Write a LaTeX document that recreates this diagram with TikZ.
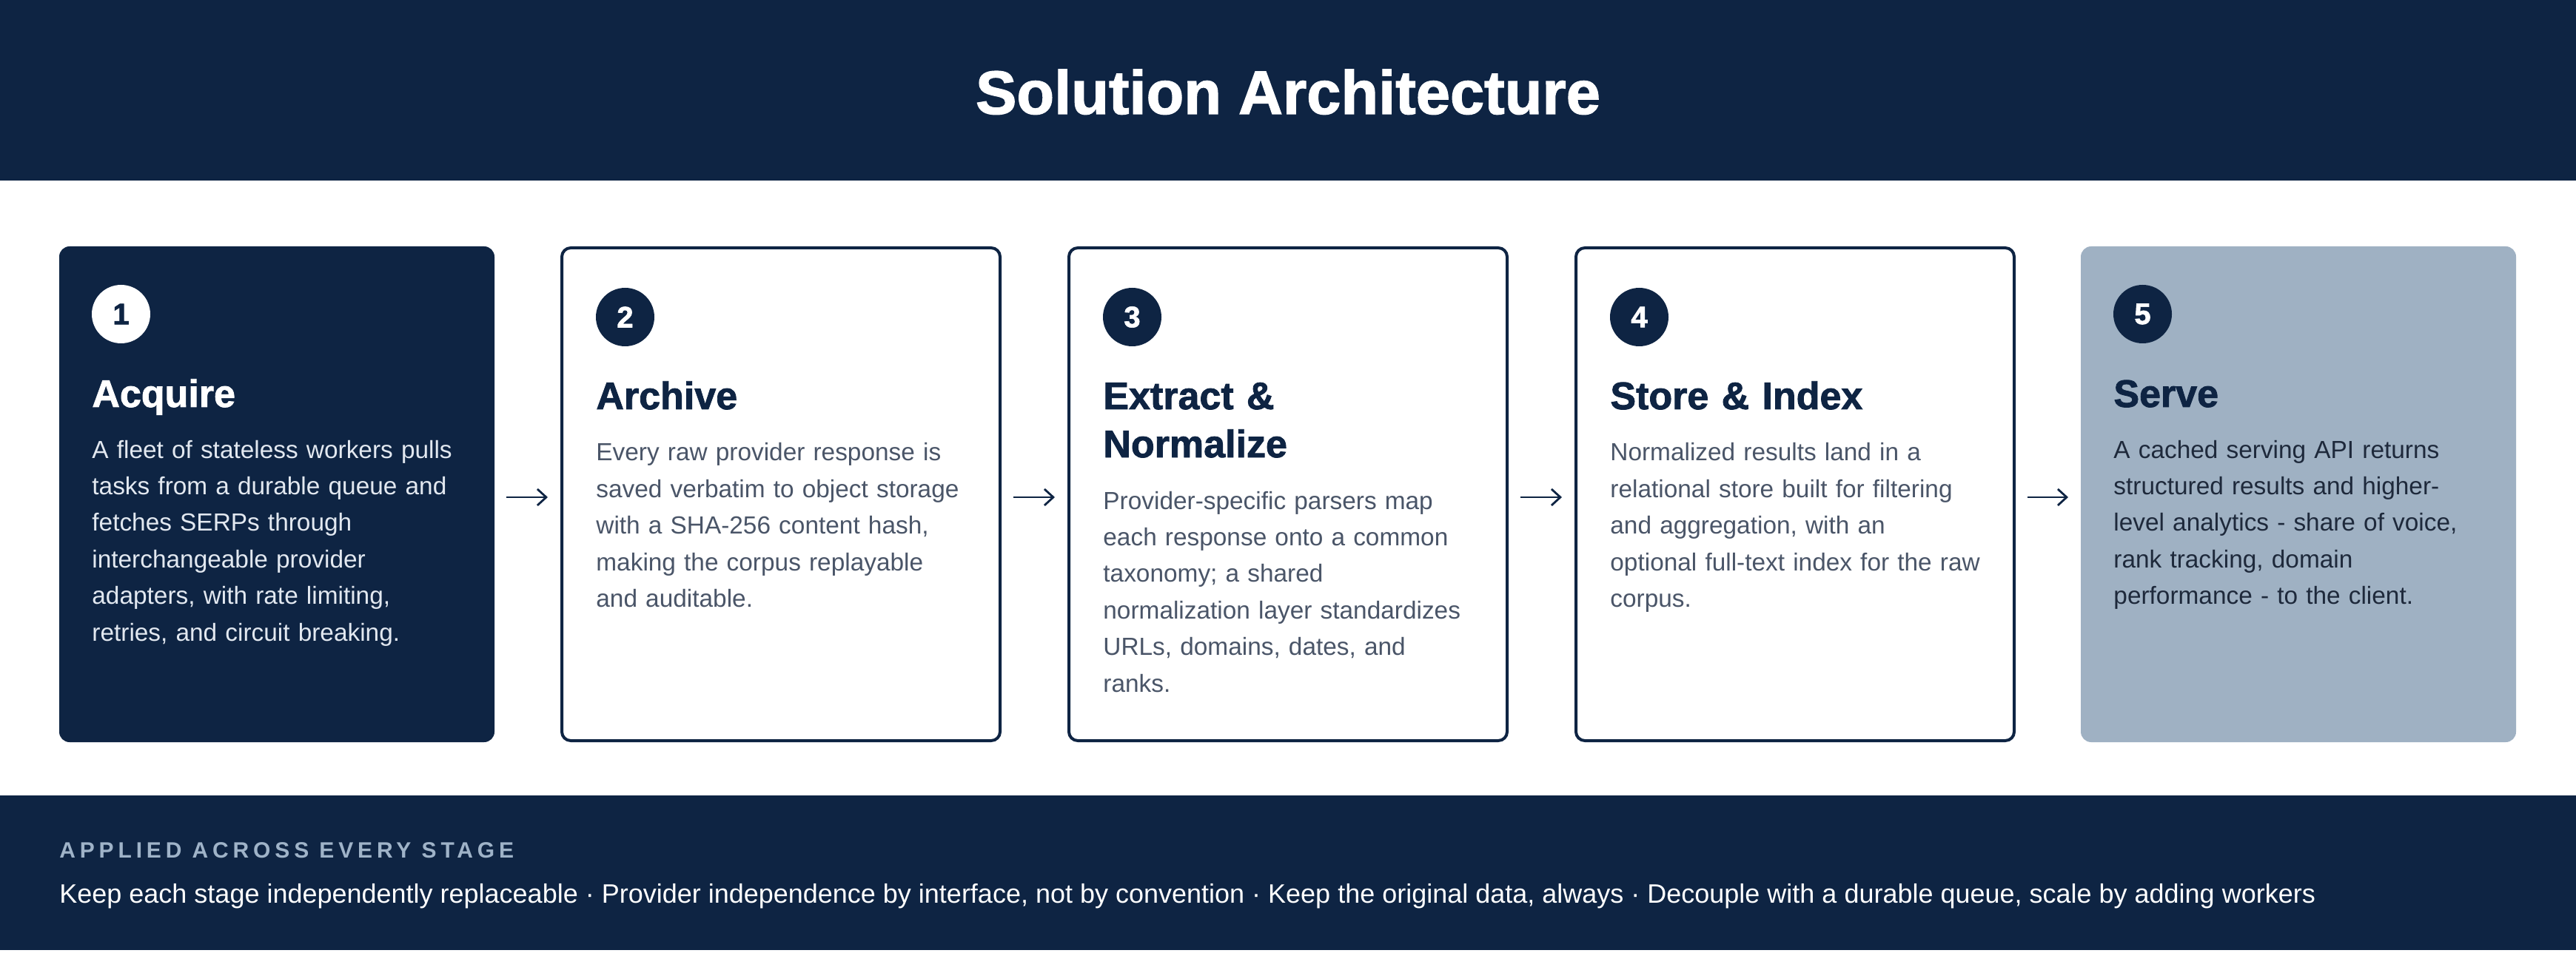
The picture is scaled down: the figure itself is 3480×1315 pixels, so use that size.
\documentclass[tikz,border=0pt]{standalone}
\usepackage{fontspec}
\setmainfont{Liberation Sans}
\newfontfamily\spacedfont{Liberation Sans}[LetterSpace=19.5]
\newfontfamily\heavyfont{Liberation Sans}[BoldFeatures={FakeBold=1.6}]
\usetikzlibrary{arrows.meta}
\definecolor{navy}{HTML}{0E2443}
\definecolor{steel}{HTML}{9FB1C3}
\definecolor{slatetext}{HTML}{4A5568}
\definecolor{paletext}{HTML}{E2E8F0}
\definecolor{darkslate}{HTML}{1E293B}
\definecolor{labelblue}{HTML}{9FB3C8}
\begin{document}
\begin{tikzpicture}[x=0.5pt,y=-0.5pt,
  fillbox/.style={rectangle, rounded corners=7pt, minimum width=294pt, minimum height=335pt, inner sep=0pt, outer sep=0pt},
  linebox/.style={rectangle, draw=navy, line width=2pt, fill=white, rounded corners=6pt, minimum width=296pt, minimum height=333pt, inner sep=0pt, outer sep=1pt},
  numdark/.style={circle, fill=navy, text=white, minimum size=39.5pt, inner sep=0pt, font=\heavyfont\bfseries\fontsize{20pt}{20pt}\selectfont},
  numlight/.style={numdark, fill=white, text=navy},
  head/.style={anchor=base west, inner sep=0pt, text width=270pt, align=left, font=\heavyfont\bfseries\fontsize{26pt}{32.5pt}\selectfont},
  body/.style={anchor=base west, inner sep=0pt, text width=270pt, align=left, font=\fontsize{16.7pt}{24.7pt}\selectfont},
  flow/.style={draw=navy, line width=1.4pt, -{Straight Barb[length=6pt,width=11pt]}, shorten <=8pt, shorten >=8.5pt}
]
\useasboundingbox (0,0) rectangle (3480,1315);
\fill[white] (0,0) rectangle (3480,1315);
% header band
\fill[navy] (0,0) rectangle (3480,244);
\node[anchor=base, inner sep=0pt, text=white, font=\heavyfont\bfseries\fontsize{41.5pt}{41.5pt}\selectfont] (title) at (1740,154) {Solution Architecture};

% boxes
\node[fillbox, fill=navy] (b1) at (374,668) {};
\node[linebox] (b2) at (1055,668) {};
\node[linebox] (b3) at (1740,668) {};
\node[linebox] (b4) at (2425,668) {};
\node[fillbox, fill=steel] (b5) at (3105,668) {};

% box 1
\node[numlight] (n1) at (163.5,424.5) {1};
\node[head, text=white] (h1) at (124,550) {Acquire};
\node[body, text=paletext] (t1) at (124,619) {A fleet of stateless workers pulls\\tasks from a durable queue and\\fetches SERPs through\\interchangeable provider\\adapters, with rate limiting,\\retries, and circuit breaking.};

% box 2
\node[numdark] (n2) at (844.5,428.5) {2};
\node[head, text=navy] (h2) at (805,553) {Archive};
\node[body, text=slatetext] (t2) at (805,623) {Every raw provider response is\\saved verbatim to object storage\\with a SHA-256 content hash,\\making the corpus replayable\\and auditable.};

% box 3
\node[numdark] (n3) at (1529.5,428.5) {3};
\node[head, text=navy] (h3) at (1490,553) {Extract \&\\Normalize};
\node[body, text=slatetext] (t3) at (1490,688) {Provider-specific parsers map\\each response onto a common\\taxonomy; a shared\\normalization layer standardizes\\URLs, domains, dates, and\\ranks.};

% box 4
\node[numdark] (n4) at (2214.5,428.5) {4};
\node[head, text=navy] (h4) at (2175,553) {Store \& Index};
\node[body, text=slatetext] (t4) at (2175,623) {Normalized results land in a\\relational store built for filtering\\and aggregation, with an\\optional full-text index for the raw\\corpus.};

% box 5
\node[numdark] (n5) at (2894.5,424.5) {5};
\node[head, text=navy] (h5) at (2855,550) {Serve};
\node[body, text=darkslate] (t5) at (2855,619) {A cached serving API returns\\structured results and higher-\\level analytics - share of voice,\\rank tracking, domain\\performance - to the client.};

% arrows
\draw[flow] ([yshift=-2pt]b1.east) -- ([yshift=-2pt]b2.west);
\draw[flow] ([yshift=-2pt]b2.east) -- ([yshift=-2pt]b3.west);
\draw[flow] ([yshift=-2pt]b3.east) -- ([yshift=-2pt]b4.west);
\draw[flow] ([yshift=-2pt]b4.east) -- ([yshift=-2pt]b5.west);

% footer band
\fill[navy] (0,1075) rectangle (3480,1284);
\node[anchor=base west, inner sep=0pt, text=labelblue, font=\spacedfont\bfseries\fontsize{15pt}{15pt}\selectfont] (flabel) at (80,1159) {APPLIED ACROSS EVERY STAGE};
\node[anchor=base west, inner sep=0pt, text=white, font=\fontsize{18pt}{18pt}\selectfont] (ftext) at (80,1220) {Keep each stage independently replaceable · Provider independence by interface, not by convention · Keep the original data, always · Decouple with a durable queue, scale by adding workers};
\end{tikzpicture}
\end{document}
